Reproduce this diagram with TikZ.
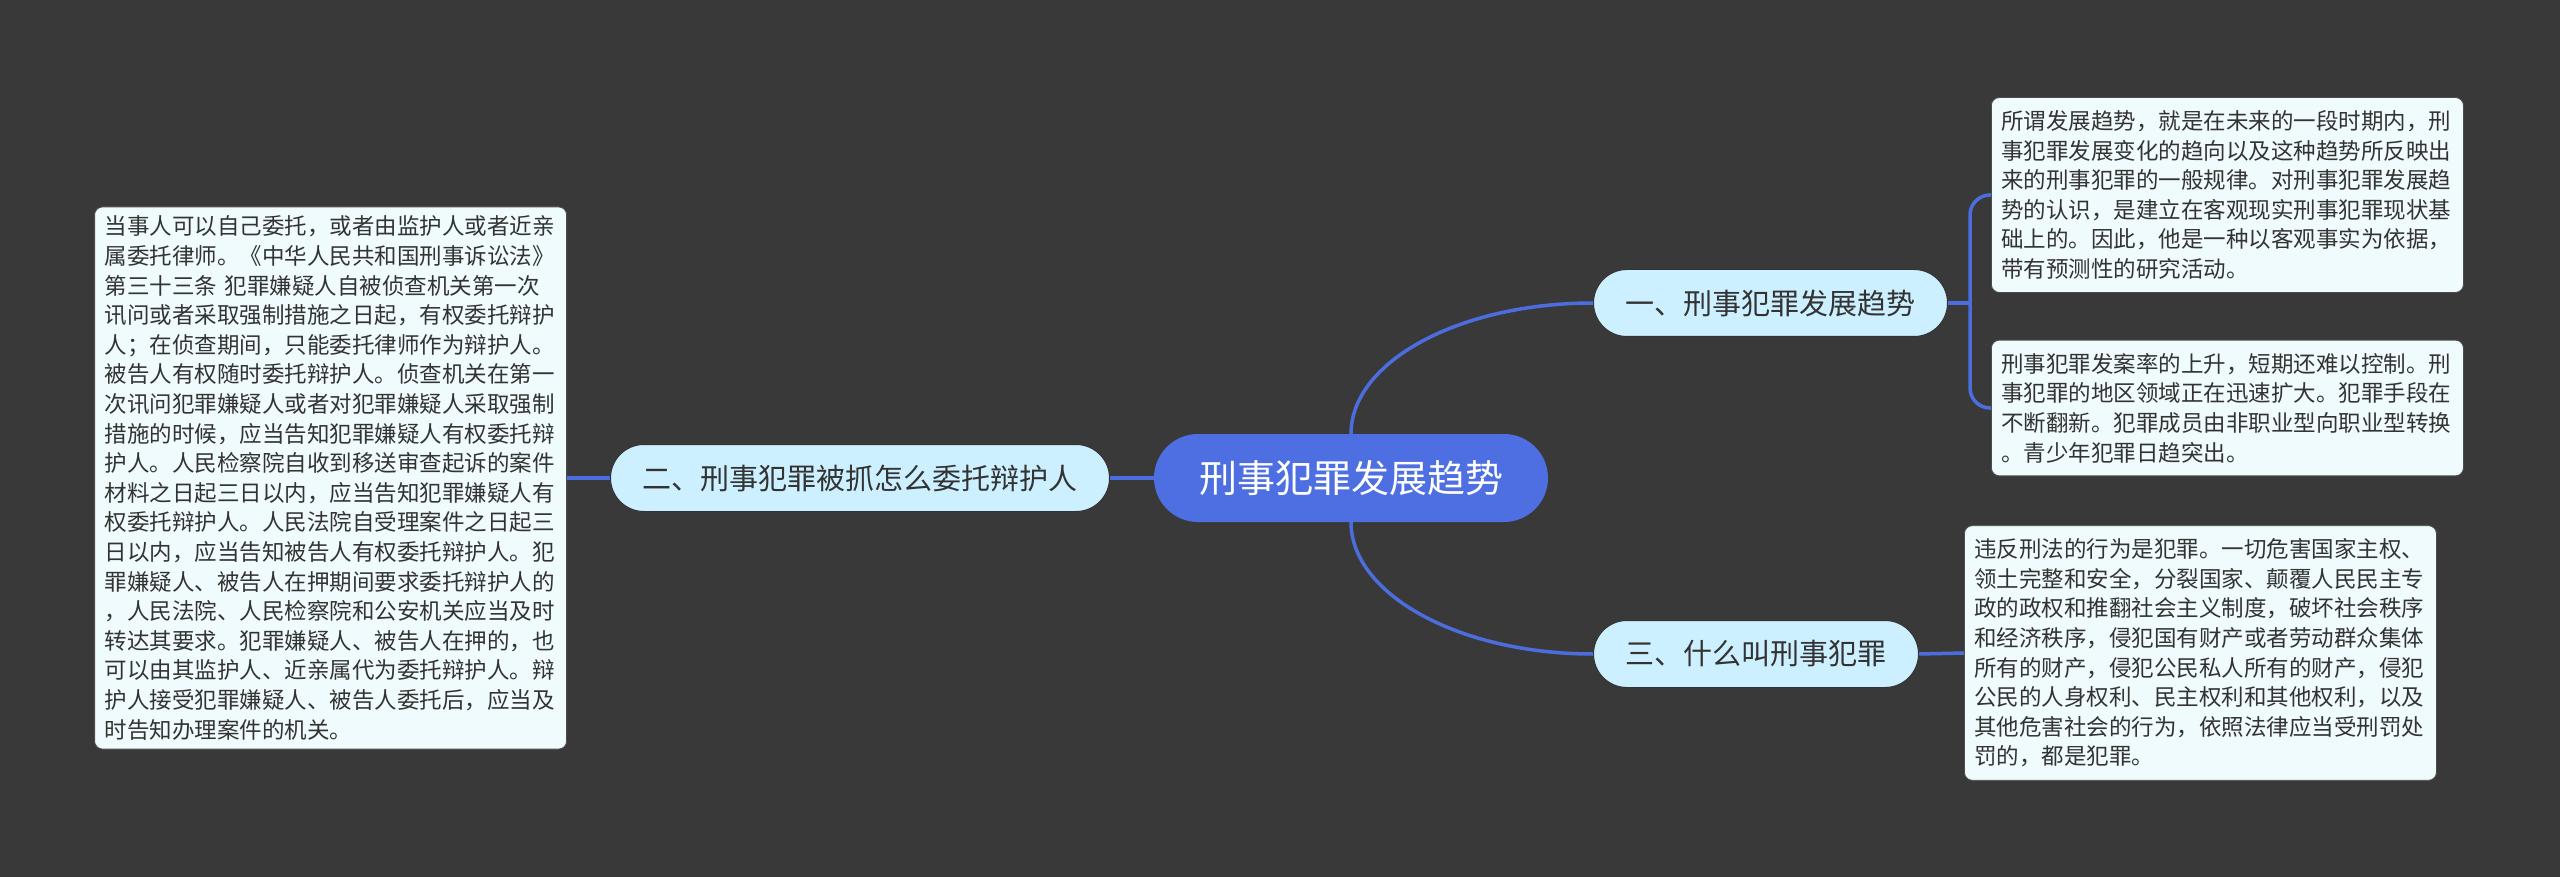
\documentclass[tikz,border=0pt]{standalone}
\usepackage{fontspec}
\newfontfamily\cjk{Noto Sans CJK SC}
\definecolor{bgc}{HTML}{3A393A}
\definecolor{rootc}{HTML}{4E6FE1}
\definecolor{linec}{HTML}{4C6DDE}
\definecolor{midc}{HTML}{CCF0FF}
\definecolor{leafc}{HTML}{F0FBFD}
\definecolor{txtc}{HTML}{333333}
\begin{document}
\begin{tikzpicture}[x=1pt,y=-1pt,
  rootnode/.style={fill=rootc, draw=none, rounded corners=44pt, minimum height=88pt, inner xsep=45pt, inner ysep=0pt, text=white, font=\cjk\fontsize{38}{40}\selectfont},
  midnode/.style={fill=midc, draw=black!80, line width=1pt, rounded corners=33.5pt, minimum height=67pt, inner xsep=32pt, inner ysep=0pt, text=txtc, font=\cjk\fontsize{29}{32}\selectfont},
  leafnode/.style={fill=leafc, draw=black!70, line width=0.8pt, rounded corners=8pt, text width=452pt, align=left, inner xsep=10pt, inner ysep=9pt, text=txtc, font=\cjk\fontsize{22.5}{29.6}\selectfont},
  rleaf/.style={leafnode, inner ysep=13pt},
  conn/.style={draw=linec, line width=3.5pt}]
\fill[bgc] (0,0) rectangle (2560,877);
\useasboundingbox (0,0) rectangle (2560,877);

\node[rootnode] (c) at (1351,478) {刑事犯罪发展趋势};
\node[midnode, anchor=east] (n2) at (1110,478) {二、刑事犯罪被抓怎么委托辩护人};
\node[midnode, anchor=west] (n1) at (1593,303) {一、刑事犯罪发展趋势};
\node[midnode, anchor=west] (n3) at (1593,654) {三、什么叫刑事犯罪};

\node[leafnode, anchor=east] (l2) at (567,478) {当事人可以自己委托，或者由监护人或者近亲\\属委托律师。《中华人民共和国刑事诉讼法》\\第三十三条 犯罪嫌疑人自被侦查机关第一次\\讯问或者采取强制措施之日起，有权委托辩护\\人；在侦查期间，只能委托律师作为辩护人。\\被告人有权随时委托辩护人。侦查机关在第一\\次讯问犯罪嫌疑人或者对犯罪嫌疑人采取强制\\措施的时候，应当告知犯罪嫌疑人有权委托辩\\护人。人民检察院自收到移送审查起诉的案件\\材料之日起三日以内，应当告知犯罪嫌疑人有\\权委托辩护人。人民法院自受理案件之日起三\\日以内，应当告知被告人有权委托辩护人。犯\\罪嫌疑人、被告人在押期间要求委托辩护人的\\，人民法院、人民检察院和公安机关应当及时\\转达其要求。犯罪嫌疑人、被告人在押的，也\\可以由其监护人、近亲属代为委托辩护人。辩\\护人接受犯罪嫌疑人、被告人委托后，应当及\\时告知办理案件的机关。};

\node[rleaf, anchor=west] (l1a) at (1991,195) {所谓发展趋势，就是在未来的一段时期内，刑\\事犯罪发展变化的趋向以及这种趋势所反映出\\来的刑事犯罪的一般规律。对刑事犯罪发展趋\\势的认识，是建立在客观现实刑事犯罪现状基\\础上的。因此，他是一种以客观事实为依据，\\带有预测性的研究活动。};

\node[rleaf, anchor=west] (l1b) at (1991,408) {刑事犯罪发案率的上升，短期还难以控制。刑\\事犯罪的地区领域正在迅速扩大。犯罪手段在\\不断翻新。犯罪成员由非职业型向职业型转换\\。青少年犯罪日趋突出。};

\node[rleaf, anchor=west] (l3) at (1964,653) {违反刑法的行为是犯罪。一切危害国家主权、\\领土完整和安全，分裂国家、颠覆人民民主专\\政的政权和推翻社会主义制度，破坏社会秩序\\和经济秩序，侵犯国有财产或者劳动群众集体\\所有的财产，侵犯公民私人所有的财产，侵犯\\公民的人身权利、民主权利和其他权利，以及\\其他危害社会的行为，依照法律应当受刑罚处\\罚的，都是犯罪。};

\coordinate (j1) at (1970,303);

\draw[conn] (c.west) -- (n2.east);
\draw[conn] (n2.west) -- (l2.east);
\draw[conn] (c.north) .. controls +(0,-72) and +(-134,0) .. (n1.west);
\draw[conn] (c.south) .. controls +(0,72) and +(-134,0) .. (n3.west);
\draw[conn] (n1.east) -- (j1);
\draw[conn, rounded corners=20pt] (j1) |- (l1a.west);
\draw[conn, rounded corners=20pt] (j1) |- (l1b.west);
\draw[conn] (n3.east) -- (l3.west);
\end{tikzpicture}
\end{document}
